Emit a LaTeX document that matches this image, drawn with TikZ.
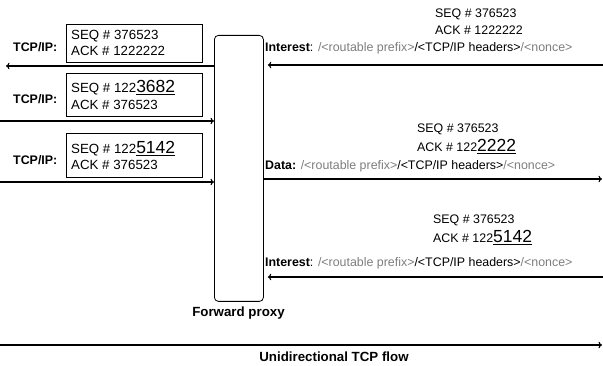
\documentclass[tikz,border=0pt]{standalone}
\usepackage{fontspec}
\setmainfont{Liberation Sans}
\usetikzlibrary{arrows.meta}
\definecolor{dimtext}{RGB}{125,125,125}
% enlarged, underlined digits that mark the changed part of a number
\newcommand{\chg}[1]{{\fontsize{17.5}{17.5}\selectfont\underline{#1}}}
\newcommand{\nameline}[1]{#1\textcolor{dimtext}{/<routable prefix>}/<TCP/IP headers>\textcolor{dimtext}{/<nonce>}}

\begin{document}
\begin{tikzpicture}[x=1pt,y=-1pt,
  every node/.style={font=\fontsize{12.4}{15}\selectfont, inner sep=0pt},
  txt/.style={anchor=base west},
  boxtxt/.style={anchor=base west, font=\fontsize{13.3}{15}\selectfont},
  hdr/.style={anchor=base west, font=\fontsize{12.4}{15}\selectfont\bfseries},
  caption/.style={anchor=base, font=\fontsize{13.3}{15}\selectfont\bfseries},
  pkt/.style={draw, line width=0.8pt, minimum width=136pt, minimum height=38pt, anchor=north west},
  proxybox/.style={draw, line width=0.8pt, rounded corners=4pt, minimum width=49pt, minimum height=266pt, anchor=north west},
  flow/.style={line width=1.1pt, -{To[length=3.5pt,width=6.5pt]}}
]
\useasboundingbox (0,0) rectangle (603,366);

% forward proxy
\node[proxybox] (proxy) at (214,35) {};
\node[caption] (plabel) at (238.5,317) {Forward proxy};

% packets on the TCP/IP side
\node[pkt] (p1) at (66,24) {};
\node[pkt, minimum height=43pt] (p2) at (66,73) {};
\node[pkt, minimum height=44pt] (p3) at (66,133) {};

\node[boxtxt] (p1s) at (71,40) {SEQ \# 376523};
\node[boxtxt] (p1a) at (71,56) {ACK \# 1222222};
\node[boxtxt] (p2s) at (71,93) {SEQ \# 122\chg{3682}};
\node[boxtxt] (p2a) at (71,110) {ACK \# 376523};
\node[boxtxt] (p3s) at (71,154) {SEQ \# 122\chg{5142}};
\node[boxtxt] (p3a) at (71,170) {ACK \# 376523};

\node[hdr] (t1) at (13,52) {TCP/IP:};
\node[hdr] (t2) at (13,104) {TCP/IP:};
\node[hdr] (t3) at (13,165) {TCP/IP:};

\coordinate (l1) at (6,66);
\coordinate (l2) at (0,121);
\coordinate (l3) at (0,182);
\draw[flow] (proxy.west |- l1) -- (l1);
\draw[flow] (l2) -- (proxy.west |- l2);
\draw[flow] (l3) -- (proxy.west |- l3);

% named-data side
\node[txt] (r1s) at (435,18) {SEQ \# 376523};
\node[txt] (r1a) at (435,35) {ACK \# 1222222};
\node[txt] (r1n) at (265,52) {\nameline{\textbf{Interest}: }};

\node[txt] (r2s) at (417,133) {SEQ \# 376523};
\node[txt] (r2a) at (417,152) {ACK \# 122\chg{2222}};
\node[txt] (r2n) at (265,170) {\nameline{\textbf{Data:} }};

\node[txt] (r3s) at (433,224) {SEQ \# 376523};
\node[txt] (r3a) at (433,243) {ACK \# 122\chg{5142}};
\node[txt] (r3n) at (265,267) {\nameline{\textbf{Interest}: }};

\coordinate (e1) at (603,65);
\coordinate (e2) at (603,179);
\coordinate (e3) at (603,277);
\draw[flow] (e1) -- ([xshift=4pt]proxy.east |- e1);
\draw[flow] (proxy.east |- e2) -- ([xshift=-1pt]e2);
\draw[flow] (e3) -- ([xshift=4pt]proxy.east |- e3);

% overall direction of the TCP flow
\coordinate (u0) at (0,345);
\coordinate (u1) at (602,345);
\draw[flow] (u0) -- (u1);
\node[caption] (ulabel) at (334,361) {Unidirectional TCP flow};
\end{tikzpicture}
\end{document}
